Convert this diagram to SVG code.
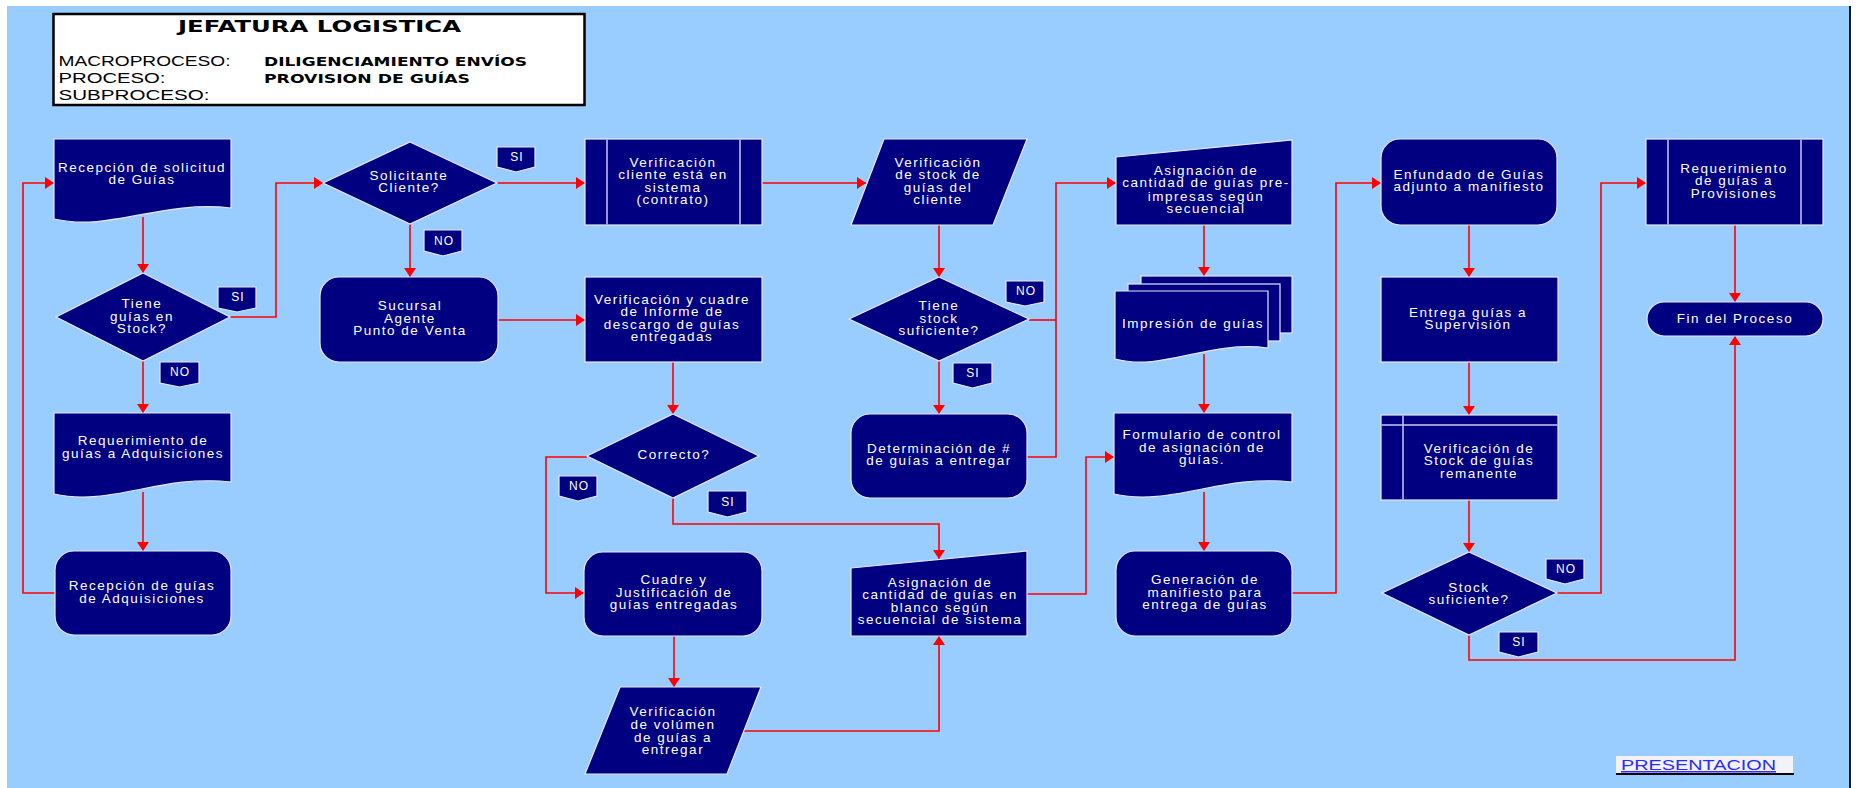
<svg xmlns="http://www.w3.org/2000/svg" width="1857" height="788" viewBox="0 0 1857 788">
  <defs>
    <style>
      .node { fill: #000080; stroke: #e8e8ff; stroke-width: 1.2; }
      .inner { stroke: #c8c8f0; stroke-width: 1.5; fill: none; }
      .t { font-family: "Liberation Sans", Arial, sans-serif; font-size: 13.5px; fill: #ffffff; text-anchor: middle; letter-spacing: 1.5px; }
      .lbl { font-family: "Liberation Sans", Arial, sans-serif; font-size: 12px; fill: #ffffff; text-anchor: middle; letter-spacing: 1px; }
      .conn { fill: none; stroke: #ff0000; stroke-width: 1.6; }
      .arr { marker-end: url(#arrow); }
      .hdr { font-family: "Liberation Sans", Arial, sans-serif; font-size: 15px; fill: #000000; }
      .hdrb { font-family: "DejaVu Sans", Verdana, sans-serif; font-size: 13px; font-weight: bold; fill: #000000; }
    </style>
    <marker id="arrow" viewBox="0 0 9 12" refX="9" refY="6" markerWidth="9" markerHeight="12" markerUnits="userSpaceOnUse" orient="auto">
      <path d="M0,0 L9,6 L0,12 Z" fill="#ff0000"/>
    </marker>
  </defs>

  <!-- page background -->
  <rect x="0" y="0" width="1857" height="788" fill="#ffffff"/>
  <rect x="7" y="6" width="1842" height="782" fill="#99ccff"/>
  <line x1="1850" y1="6" x2="1850" y2="788" stroke="#1a1a1a" stroke-width="2"/>

  <!-- title block -->
  <g id="header">
    <rect x="53.5" y="14" width="531" height="91" fill="#ffffff" stroke="#000000" stroke-width="2.5"/>
    <text x="178" y="32" font-family="'DejaVu Sans', Verdana, sans-serif" font-size="16" font-weight="bold" fill="#000" textLength="283" lengthAdjust="spacingAndGlyphs">JEFATURA LOGISTICA</text>
    <text class="hdr" x="58.5" y="66" textLength="172" lengthAdjust="spacingAndGlyphs">MACROPROCESO:</text>
    <text class="hdr" x="58.5" y="83" textLength="107" lengthAdjust="spacingAndGlyphs">PROCESO:</text>
    <text class="hdr" x="58.5" y="100" textLength="151" lengthAdjust="spacingAndGlyphs">SUBPROCESO:</text>
    <text class="hdrb" x="264" y="66" textLength="263" lengthAdjust="spacingAndGlyphs">DILIGENCIAMIENTO ENVÍOS</text>
    <text class="hdrb" x="264" y="83" textLength="206" lengthAdjust="spacingAndGlyphs">PROVISION DE GUÍAS</text>
  </g>

  <!-- connectors -->
  <g id="connectors">
    <path class="conn arr" d="M143,217 V273"/>
    <path class="conn arr" d="M230,317 H276 V183 H323"/>
    <path class="conn arr" d="M143,361 V413"/>
    <path class="conn arr" d="M143,492 V551"/>
    <path class="conn arr" d="M55,593 H23 V183 H54"/>
    <path class="conn arr" d="M497,183 H585"/>
    <path class="conn arr" d="M410,224 V277"/>
    <path class="conn arr" d="M498,320 H585"/>
    <path class="conn arr" d="M673,362 V414"/>
    <path class="conn arr" d="M587,457 H546 V593 H584"/>
    <path class="conn arr" d="M673,498 V524 H939 V559"/>
    <path class="conn arr" d="M674,636 V687"/>
    <path class="conn arr" d="M743,731 H939 V636"/>
    <path class="conn arr" d="M762,183 H866"/>
    <path class="conn arr" d="M939,225 V277"/>
    <path class="conn arr" d="M939,361 V414"/>
    <path class="conn" d="M1029,320 H1056"/>
    <path class="conn arr" d="M1027,457 H1056 V183 H1116"/>
    <path class="conn arr" d="M1204,225 V276"/>
    <path class="conn arr" d="M1204,354 V413"/>
    <path class="conn arr" d="M1027,594 H1086 V457 H1114"/>
    <path class="conn arr" d="M1204,492 V551"/>
    <path class="conn arr" d="M1292,593 H1336 V183 H1381"/>
    <path class="conn arr" d="M1469,225 V277"/>
    <path class="conn arr" d="M1469,362 V415"/>
    <path class="conn arr" d="M1469,500 V552"/>
    <path class="conn arr" d="M1557,593 H1601 V183 H1646"/>
    <path class="conn arr" d="M1469,635 V660 H1735 V336"/>
    <path class="conn arr" d="M1735,225 V302"/>
  </g>

  <!-- process nodes -->
  <g id="n_recepcion_solicitud">
    <path class="node" d="M54,139 H231 V208 C160,200 111,232 54,219 Z"/>
    <text class="t" x="142" y="172">Recepción de solicitud</text>
    <text class="t" x="142" y="183.5">de Guías</text>
  </g>
  <g id="n_tiene_guias">
    <polygon class="node" points="143,273 230,317 143,361 56,317"/>
    <text class="t" x="142" y="308">Tiene</text>
    <text class="t" x="142" y="321">guías en</text>
    <text class="t" x="142" y="333">Stock?</text>
  </g>
  <g id="n_requerimiento_adq">
    <path class="node" d="M54,413 H231 V482 C160,474 111,507 54,494 Z"/>
    <text class="t" x="143" y="445">Requerimiento de</text>
    <text class="t" x="143" y="457.5">guías a Adquisiciones</text>
  </g>
  <g id="n_recepcion_adq">
    <rect class="node" x="55" y="551" width="176" height="84" rx="19"/>
    <text class="t" x="142" y="590">Recepción de guías</text>
    <text class="t" x="142" y="602.5">de Adquisiciones</text>
  </g>
  <g id="n_solicitante">
    <polygon class="node" points="410,142 497,183 410,224 323,183"/>
    <text class="t" x="409" y="180">Solicitante</text>
    <text class="t" x="409" y="192">Cliente?</text>
  </g>
  <g id="n_sucursal">
    <rect class="node" x="320" y="277" width="178" height="85" rx="19"/>
    <text class="t" x="410" y="310">Sucursal</text>
    <text class="t" x="410" y="322.5">Agente</text>
    <text class="t" x="410" y="335">Punto  de Venta</text>
  </g>
  <g id="n_verif_cliente">
    <rect class="node" x="585" y="139" width="177" height="86"/>
    <line class="inner" x1="607" y1="139.5" x2="607" y2="224.5"/>
    <line class="inner" x1="740" y1="139.5" x2="740" y2="224.5"/>
    <text class="t" x="673" y="167">Verificación</text>
    <text class="t" x="673" y="179">cliente está en</text>
    <text class="t" x="673" y="192">sistema</text>
    <text class="t" x="673" y="204">(contrato)</text>
  </g>
  <g id="n_verif_cuadre">
    <rect class="node" x="585" y="277" width="177" height="85"/>
    <text class="t" x="672" y="304">Verificación y cuadre</text>
    <text class="t" x="672" y="316">de Informe de</text>
    <text class="t" x="672" y="329">descargo de guías</text>
    <text class="t" x="672" y="341">entregadas</text>
  </g>
  <g id="n_correcto">
    <polygon class="node" points="673,414 759,456 673,498 587,456"/>
    <text class="t" x="674" y="459">Correcto?</text>
  </g>
  <g id="n_cuadre">
    <rect class="node" x="584" y="552" width="178" height="84" rx="19"/>
    <text class="t" x="674" y="584">Cuadre y</text>
    <text class="t" x="674" y="596.5">Justificación de</text>
    <text class="t" x="674" y="609">guías entregadas</text>
  </g>
  <g id="n_verif_volumen">
    <polygon class="node" points="620,687 761,687 727,774 585,774"/>
    <text class="t" x="673" y="716">Verificación</text>
    <text class="t" x="673" y="728.5">de volúmen</text>
    <text class="t" x="673" y="741.5">de guías a</text>
    <text class="t" x="673" y="753.5">entregar</text>
  </g>
  <g id="n_verif_stock">
    <polygon class="node" points="884,139 1027,139 993,225 851,225"/>
    <text class="t" x="938" y="167">Verificación</text>
    <text class="t" x="938" y="179">de stock de</text>
    <text class="t" x="938" y="192">guías del</text>
    <text class="t" x="938" y="204">cliente</text>
  </g>
  <g id="n_tiene_stock">
    <polygon class="node" points="939,277 1029,319 939,361 849,319"/>
    <text class="t" x="939" y="310">Tiene</text>
    <text class="t" x="939" y="322.5">stock</text>
    <text class="t" x="939" y="335">suficiente?</text>
  </g>
  <g id="n_determinacion">
    <rect class="node" x="851" y="414" width="176" height="84" rx="19"/>
    <text class="t" x="939" y="453">Determinación  de #</text>
    <text class="t" x="939" y="465">de guías a entregar</text>
  </g>
  <g id="n_asig_blanco">
    <polygon class="node" points="851,568 1027,551 1027,636 851,636"/>
    <text class="t" x="940" y="587">Asignación de</text>
    <text class="t" x="940" y="599">cantidad de guías en</text>
    <text class="t" x="940" y="612">blanco según</text>
    <text class="t" x="940" y="624">secuencial de sistema</text>
  </g>
  <g id="n_asig_pre">
    <polygon class="node" points="1116,157 1292,140 1292,225 1116,225"/>
    <text class="t" x="1206" y="175">Asignación de</text>
    <text class="t" x="1206" y="187">cantidad de guías pre-</text>
    <text class="t" x="1206" y="201">impresas según</text>
    <text class="t" x="1206" y="213">secuencial</text>
  </g>
  <g id="n_impresion">
    <rect class="node" x="1141" y="276" width="151" height="57"/>
    <rect class="node" x="1128" y="284" width="152" height="57"/>
    <path class="node" d="M1115,291 H1268 V348 C1207,340 1164,372 1115,359 Z"/>
    <text class="t" x="1193" y="328">Impresión  de guías</text>
  </g>
  <g id="n_formulario">
    <path class="node" d="M1114,413 H1292 V482 C1221,474 1171,507 1114,494 Z"/>
    <text class="t" x="1202" y="439">Formulario  de control</text>
    <text class="t" x="1202" y="451.5">de asignación de</text>
    <text class="t" x="1202" y="464">guías.</text>
  </g>
  <g id="n_generacion">
    <rect class="node" x="1116" y="551" width="176" height="85" rx="19"/>
    <text class="t" x="1205" y="584">Generación de</text>
    <text class="t" x="1205" y="596.5">manifiesto para</text>
    <text class="t" x="1205" y="609">entrega de guías</text>
  </g>
  <g id="n_enfundado">
    <rect class="node" x="1381" y="139" width="176" height="86" rx="19"/>
    <text class="t" x="1469" y="179">Enfundado de Guías</text>
    <text class="t" x="1469" y="191">adjunto a manifiesto</text>
  </g>
  <g id="n_entrega">
    <rect class="node" x="1381" y="277" width="177" height="85"/>
    <text class="t" x="1468" y="317">Entrega guías a</text>
    <text class="t" x="1468" y="329">Supervisión</text>
  </g>
  <g id="n_remanente">
    <rect class="node" x="1381" y="415" width="177" height="85"/>
    <line class="inner" x1="1381.5" y1="425" x2="1557.5" y2="425"/>
    <line class="inner" x1="1403" y1="415.5" x2="1403" y2="499.5"/>
    <text class="t" x="1479" y="453">Verificación de</text>
    <text class="t" x="1479" y="465">Stock de guías</text>
    <text class="t" x="1479" y="478">remanente</text>
  </g>
  <g id="n_stock_suficiente">
    <polygon class="node" points="1469,552 1557,593 1469,635 1382,593"/>
    <text class="t" x="1469" y="592">Stock</text>
    <text class="t" x="1469" y="604">suficiente?</text>
  </g>
  <g id="n_provisiones">
    <rect class="node" x="1646" y="139" width="177" height="86"/>
    <line class="inner" x1="1668" y1="139.5" x2="1668" y2="224.5"/>
    <line class="inner" x1="1801" y1="139.5" x2="1801" y2="224.5"/>
    <text class="t" x="1734" y="173">Requerimiento</text>
    <text class="t" x="1734" y="185">de guías a</text>
    <text class="t" x="1734" y="198">Provisiones</text>
  </g>
  <g id="n_fin">
    <rect class="node" x="1647" y="302" width="176" height="34" rx="17"/>
    <text class="t" x="1735" y="323">Fin  del Proceso</text>
  </g>

  <!-- decision labels -->
  <g id="lbl_si_1"><path class="node" d="M218,287 H256 V308 L237,312 L218,308 Z"/><text class="lbl" x="238" y="301">SI</text></g>
  <g id="lbl_no_1"><path class="node" d="M160,362 H199 V383 L179.5,387 L160,383 Z"/><text class="lbl" x="180" y="376">NO</text></g>
  <g id="lbl_si_2"><path class="node" d="M497,147 H535 V167 L516,172 L497,167 Z"/><text class="lbl" x="517" y="161">SI</text></g>
  <g id="lbl_no_2"><path class="node" d="M424,230 H462 V251 L443,256 L424,251 Z"/><text class="lbl" x="444" y="244.5">NO</text></g>
  <g id="lbl_no_3"><path class="node" d="M559,476 H597 V496 L578,501 L559,496 Z"/><text class="lbl" x="579" y="489.5">NO</text></g>
  <g id="lbl_si_3"><path class="node" d="M708,491 H747 V512 L727.5,517 L708,512 Z"/><text class="lbl" x="728" y="505.5">SI</text></g>
  <g id="lbl_no_4"><path class="node" d="M1006,281 H1044 V302 L1025,306 L1006,302 Z"/><text class="lbl" x="1026" y="295">NO</text></g>
  <g id="lbl_si_4"><path class="node" d="M953,363 H992 V383 L972.5,388 L953,383 Z"/><text class="lbl" x="973" y="377">SI</text></g>
  <g id="lbl_no_5"><path class="node" d="M1546,559 H1584 V579 L1565,584 L1546,579 Z"/><text class="lbl" x="1566" y="573">NO</text></g>
  <g id="lbl_si_5"><path class="node" d="M1499,632 H1538 V652 L1518.5,657 L1499,652 Z"/><text class="lbl" x="1519" y="646">SI</text></g>

  <!-- navigation link -->
  <g id="presentacion">
    <rect x="1616" y="756" width="177" height="17" fill="#f2f2f8"/>
    <line x1="1616" y1="774" x2="1794" y2="774" stroke="#000000" stroke-width="2"/>
    <text x="1621" y="770" font-family="'Liberation Sans', Arial, sans-serif" font-size="15" fill="#2a2aff" text-decoration="underline" textLength="155" lengthAdjust="spacingAndGlyphs">PRESENTACION</text>
  </g>
</svg>
